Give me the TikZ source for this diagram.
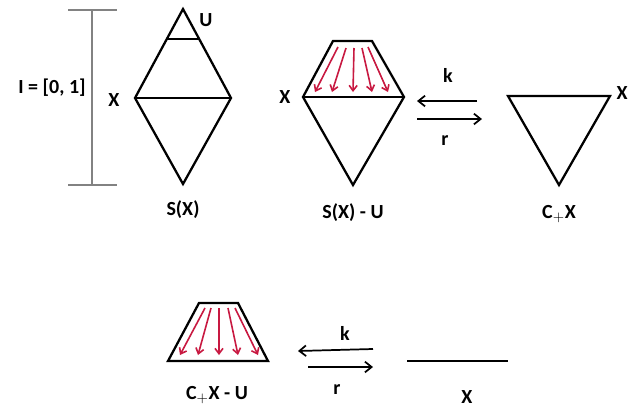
\documentclass[tikz,border=0pt]{standalone}
\usepackage{fontspec}
\setmainfont{Carlito}
\usetikzlibrary{arrows.meta}
\definecolor{fanred}{RGB}{200,25,65}
\definecolor{bargray}{RGB}{130,130,130}
\begin{document}
\begin{tikzpicture}[x=0.75pt,y=-0.75pt,
  shape line/.style={line width=1.7pt,line join=miter},
  fan/.style={fanred,line width=1.2pt,-{Straight Barb[length=4pt,width=6pt]}},
  map/.style={line width=1.3pt,-{Straight Barb[length=5pt,width=8pt]}},
  lbl/.style={font=\fontsize{15}{18}\selectfont\bfseries,inner sep=0pt}]
\useasboundingbox (0,0) rectangle (629,412);
% interval bar
\draw[bargray,line width=0.8pt] (68,10) -- (117,10) (68,185) -- (117,185);
\draw[bargray,line width=0.8pt] (92,10) -- (92,185);
\node[lbl] (I) at (52,88) {I = [0, 1]};
% S(X)
\coordinate (st) at (183,9);
\coordinate (sl) at (135,98);
\coordinate (sr) at (231,98);
\coordinate (sb) at (183,184);
\draw[shape line] (st) -- (sr) -- (sb) -- (sl) -- cycle;
\draw[shape line] (sl) -- (sr);
\draw[line width=1.2pt] (166,39) -- (199,39);
\node[lbl] (U) at (206,20) {U};
\node[lbl] (X1) at (114,100) {X};
\node[lbl] (SX) at (183,210) {S(X)};
% S(X) - U
\draw[shape line] (333,41) -- (372,41) -- (404,97) -- (353,185) -- (303,97) -- cycle;
\draw[shape line] (303,97) -- (404,97);
\draw[fan] (338,47) -- (315,92);
\draw[fan] (346,48) -- (332,92);
\draw[fan] (354,48) -- (353,92);
\draw[fan] (362,48) -- (372,92);
\draw[fan] (368,47) -- (388,92);
\node[lbl] (X2) at (285,97) {X};
\node[lbl] (SXU) at (353,213) {S(X) - U};
% maps k, r (top)
\coordinate (ka) at (477,101);
\coordinate (kb) at (417,101);
\coordinate (ra) at (417,119);
\coordinate (rb) at (482,119);
\draw[map] (ka) -- (kb);
\draw[map] (ra) -- (rb);
\node[lbl] (k1) at (448,75) {k};
\node[lbl] (r1) at (445,141) {r};
% C+X
\draw[shape line] (508,96) -- (610,96) -- (559,185) -- cycle;
\node[lbl,anchor=east] (X3) at (628,93) {X};
\node[lbl] (CX) at (559,214) {C$_{+}$X};
% C+X - U
\draw[shape line] (199,303) -- (238,303) -- (268,361) -- (168,361) -- cycle;
\draw[fan] (205,308) -- (180,355);
\draw[fan] (211,308) -- (198,355);
\draw[fan] (219,308) -- (219,355);
\draw[fan] (228,308) -- (238,355);
\draw[fan] (235,308) -- (258,355);
\node[lbl] (CXU) at (217,395) {C$_{+}$X - U};
% maps k, r (bottom)
\coordinate (kc) at (373,349);
\coordinate (kd) at (298,351);
\coordinate (rc) at (308,367);
\coordinate (rd) at (373,367);
\draw[map] (kc) -- (kd);
\draw[map] (rc) -- (rd);
\node[lbl] (k2) at (345,333) {k};
\node[lbl] (r2) at (337,390) {r};
% X segment
\draw[line width=1.4pt] (407,361) -- (508,361);
\node[lbl] (X4) at (467,397) {X};
\end{tikzpicture}
\end{document}
